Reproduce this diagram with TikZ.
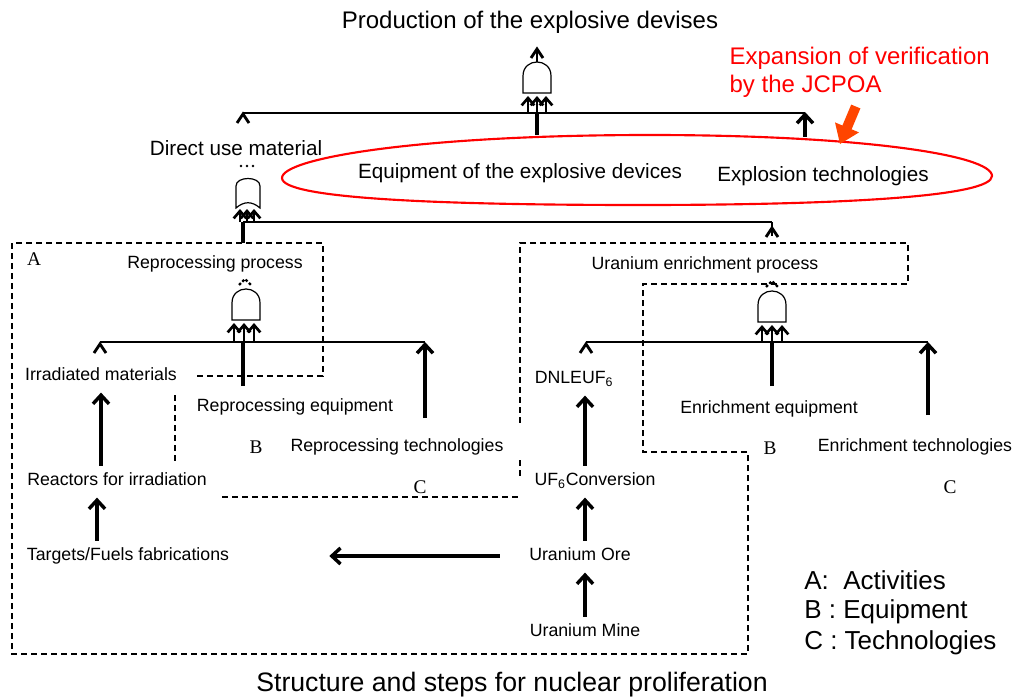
\documentclass[tikz,border=0pt]{standalone}
\usepackage{fontspec}
\setmainfont{Liberation Sans}
\newfontfamily\serifabc{Liberation Serif}
\usetikzlibrary{arrows.meta}
\definecolor{orred}{RGB}{255,69,0}
\tikzset{
  sm/.style={font=\fontsize{13.3}{15}\selectfont, text height=9.7pt, text depth=2.8pt, inner sep=1pt},
  md/.style={font=\fontsize{15.5}{18}\selectfont, inner sep=1pt},
  lg/.style={font=\fontsize{18}{21}\selectfont, inner sep=1pt},
  abc/.style={font=\serifabc\fontsize{14.5}{16}\selectfont, inner sep=1pt},
  leg/.style={font=\fontsize{19.5}{23}\selectfont, anchor=west, inner sep=0pt},
  thinl/.style={line width=0.8pt},
  thickl/.style={line width=2.6pt},
  arr/.style={line width=2.6pt, -{Straight Barb[length=6.5pt,width=12pt]}},
  inarr/.style={line width=2pt, -{Straight Barb[length=5.5pt,width=9.5pt]}},
  dsh/.style={line width=1.7pt, dash pattern=on 4.5pt off 3pt},
  andgate/.pic={\draw[line width=0.9pt, fill=white] (-14,0) -- (-14,-17) .. controls (-14,-35.7) and (14,-35.7) .. (14,-17) -- (14,0) -- cycle;},
  orgate/.pic={\draw[line width=0.9pt, fill=white] (-12,0) -- (-12,-22) .. controls (-12,-32) and (12,-32) .. (12,-22) -- (12,0) .. controls (4,-7) and (-4,-7) .. (-12,0) -- cycle;},
  chev/.pic={\draw[line width=2.1pt] (-6,9) -- (0,0) -- (6,9);},
  dchev/.pic={\draw[line width=1.7pt, dash pattern=on 2pt off 1.5pt] (-6,6) -- (0,0) -- (6,6);}
}
\begin{document}
\begin{tikzpicture}[x=0.75pt,y=-0.75pt]
\useasboundingbox (0,0) rectangle (1016,699);

% ---- red ellipse (behind texts) ----
\draw[red, line width=1.6pt] (282,178) .. controls (282,158) and (420,135) .. (650,135)
  .. controls (860,135) and (992,155) .. (992,176)
  .. controls (992,196) and (850,205) .. (640,205)
  .. controls (430,205) and (282,198) .. (282,178);

% ---- texts ----
\node[lg] (title) at (530,22) {Production of the explosive devises};
\node[lg, text=red, anchor=west] (red1) at (728,58) {Expansion of verification};
\node[lg, text=red, anchor=west] (red2) at (728,86) {by the JCPOA};
\node[md] (dum) at (236,148) {Direct use material};
\node[md] (eqexp) at (520,173) {Equipment of the explosive devices};
\node[md] (exptech) at (823,176) {Explosion technologies};
\node[abc] (A1) at (34,259) {A};
\node[sm] (repproc) at (215,264) {Reprocessing process};
\node[sm] (uep) at (705,265) {Uranium enrichment process};
\node[sm] (irr) at (101,376) {Irradiated materials};
\node[sm] (dnl) at (574,379) {DNLEUF\textsubscript{6}};
\node[sm] (repeq) at (295,407) {Reprocessing equipment};
\node[sm] (enreq) at (769,409) {Enrichment equipment};
\node[abc] (B1) at (256,447) {B};
\node[sm] (reptech) at (397,447) {Reprocessing technologies};
\node[abc] (B2) at (770,448) {B};
\node[sm] (enrtech) at (915,447) {Enrichment technologies};
\node[sm] (reac) at (117,481) {Reactors for irradiation};
\node[abc] (C1) at (420,487) {C};
\node[sm] (uf6) at (595,481) {UF\textsubscript{6}Conversion};
\node[abc] (C2) at (950,487) {C};
\node[sm] (targ) at (128,556) {Targets/Fuels fabrications};
\node[sm] (ore) at (580,556) {Uranium Ore};
\node[sm] (mine) at (585,632) {Uranium Mine};
\node[leg] (legA) at (804,580) {A:\ \ Activities};
\node[leg] (legB) at (804,612) {B : Equipment};
\node[leg] (legC) at (804,643) {C : Technologies};
\node[font=\fontsize{20}{24}\selectfont, inner sep=0pt] (cap) at (512,685) {Structure and steps for nuclear proliferation};

% ---- dashed regions ----
\draw[dsh] (175,395) -- (175,463);
\draw[dsh] (197,376) -- (323,376) -- (323,243) -- (12,243) -- (12,654) -- (748,654) -- (748,452) -- (643,452) -- (643,284) -- (908,284) -- (908,243) -- (520,243) -- (520,425);
\draw[dsh] (520,460) -- (520,478);
\draw[dsh] (222,497) -- (520,497);

% ---- top gate ----
\pic at (537,93) {andgate};
\draw[line width=1.2pt] (537,62) -- (537,52);
\pic at (537,49) {chev};
\draw[thinl] (243,113) -- (805,113);
\foreach \x in {528,537,546} \draw[inarr] (\x,113) -- (\x,96);
\draw[thickl] (537,135) -- (537,113);
\draw[arr] (805,137) -- (805,112);
\pic at (243,114) {chev};

% ---- direct use material OR gate ----
\pic at (248,208) {orgate};
\foreach \x in {241,247,253} \fill (\x,166) circle (1.4);
\draw[thinl] (243,222) -- (772,222);
\foreach \x in {240,247,254} \draw[inarr] (\x,222) -- (\x,209);
\draw[thickl] (243,243) -- (243,222);
\draw[line width=1.2pt] (772,222) -- (772,236);
\pic at (772,228) {chev};

% ---- reprocessing gate ----
\pic at (246,320) {andgate};
\pic at (245,279) {dchev};
\draw[thinl] (100,342) -- (425,342);
\foreach \x in {234,244,254} \draw[inarr] (\x,342) -- (\x,323);
\draw[thickl] (243,386) -- (243,342);
\pic at (100,344) {chev};
\draw[arr] (425,418) -- (425,342);

% ---- enrichment gate ----
\pic at (772,322) {andgate};
\pic at (772,281) {dchev};
\draw[thinl] (586,342) -- (928,342);
\foreach \x in {762,772,782} \draw[inarr] (\x,342) -- (\x,325);
\draw[thickl] (772,386) -- (772,342);
\pic at (586,344) {chev};
\draw[arr] (928,415) -- (928,342);

% ---- chains ----
\draw[arr, shorten <=4pt, shorten >=5pt] (reac.north -| irr) -- (irr.south);
\draw[arr, shorten <=4pt, shorten >=5pt] ([xshift=-3pt]targ.north -| irr) -- ([xshift=-3pt]reac.south -| irr);
\draw[arr, shorten <=4pt, shorten >=5pt] (uf6.north -| mine) -- (dnl.south -| mine);
\draw[arr, shorten <=4pt, shorten >=5pt] (ore.north -| mine) -- (uf6.south -| mine);
\draw[arr, shorten <=4pt, shorten >=5pt] (mine.north) -- (ore.south -| mine);
\draw[arr, shorten <=21pt, shorten >=74pt] (ore.west) -- (targ.east);

% ---- red arrow ----
\fill[orred] (860.4,108.4) -- (851.6,129.3) -- (859.0,132.4) -- (840,144) -- (835.0,122.4) -- (842.4,125.5) -- (851.2,104.6) -- cycle;
\end{tikzpicture}
\end{document}
